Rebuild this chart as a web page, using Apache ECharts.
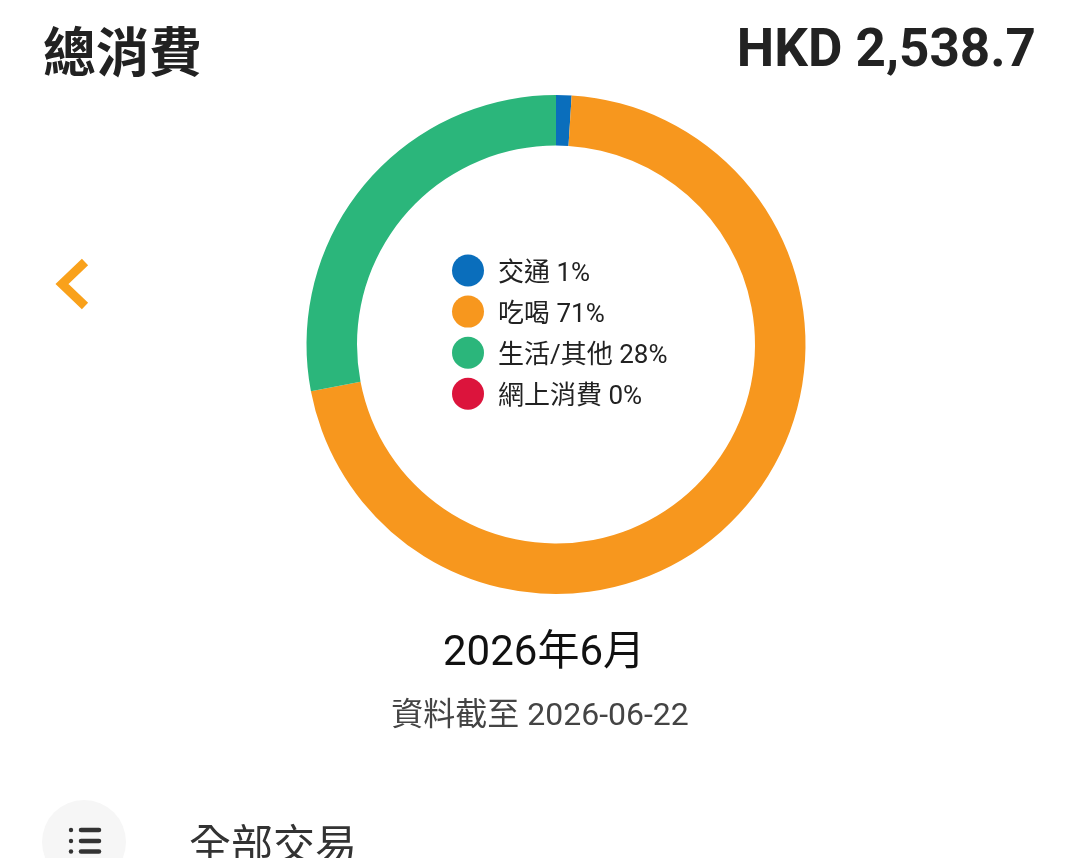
<!DOCTYPE html>
<html>
<head>
<meta charset="utf-8">
<style>html,body{margin:0;padding:0;background:#fff}#chart{width:1080px;height:858px}</style>
<script src="https://cdn.jsdelivr.net/npm/echarts@6/dist/echarts.min.js"></script>
</head>
<body>
<div id="chart"></div>
<script>
// Monthly spending split by category
const categories = ['交通', '吃喝', '生活/其他', '網上消費'];
const shares = [1, 71, 28, 0];
const palette = ['#0A6EBC', '#F7971E', '#2BB67B', '#DC143C'];
const heading = '總消費';
const totalText = 'HKD 2,538.7';
const monthText = '2026年6月';
const asOfText = '資料截至 2026-06-22';
const listText = '全部交易';

const fontStack = 'Roboto, "Noto Sans CJK TC", sans-serif';
const chart = echarts.init(document.getElementById('chart'), null, { renderer: 'canvas' });

chart.setOption({
  animation: false,
  backgroundColor: '#ffffff',
  color: palette,
  textStyle: { fontFamily: fontStack },
  title: [
    { text: heading, left: 43, top: 32, padding: 0,
      textStyle: { fontSize: 53, fontWeight: 'bold', color: '#222222', fontFamily: fontStack } },
    { text: totalText, right: 44, top: 26, padding: 0,
      textStyle: { fontSize: 53, fontWeight: 'bold', color: '#222222', fontFamily: fontStack } },
    { text: monthText, left: 544, top: 633, textAlign: 'center', padding: 0,
      textStyle: { fontSize: 42, fontWeight: 'normal', color: '#111111', fontFamily: fontStack } },
    { text: asOfText, left: 540, top: 701, textAlign: 'center', padding: 0,
      textStyle: { fontSize: 32, fontWeight: 'normal', color: '#444444', fontFamily: fontStack } },
    { text: listText, left: 189, top: 828, padding: 0,
      textStyle: { fontSize: 42, fontWeight: 'normal', color: '#333333', fontFamily: fontStack } }
  ],
  legend: {
    orient: 'vertical',
    left: 452,
    top: 254,
    padding: 0,
    icon: 'circle',
    itemWidth: 32,
    itemHeight: 32,
    itemGap: 8.1,
    selectedMode: false,
    data: categories,
    formatter: name => '{entry|' + name + ' ' + shares[categories.indexOf(name)] + '%}',
    textStyle: {
      rich: {
        entry: { fontSize: 26, lineHeight: 25, color: '#222222', fontFamily: fontStack, padding: [7, 0, 0, 9] }
      }
    }
  },
  series: [{
    type: 'pie',
    center: [556, 344.5],
    radius: [199, 249.5],
    startAngle: 90,
    clockwise: true,
    silent: true,
    label: { show: false },
    labelLine: { show: false },
    data: categories.map((name, i) => ({ name, value: shares[i] }))
  }],
  graphic: [
    // back chevron
    { type: 'polyline', shape: { points: [[85, 262], [62, 284], [85, 306]] },
      style: { stroke: '#F9A11B', lineWidth: 9, fill: null, lineJoin: 'miter' } },
    // list button at the bottom edge
    { type: 'circle', shape: { cx: 84, cy: 842, r: 42 }, style: { fill: '#F6F6F6' } },
    { type: 'group', children: [
      { type: 'circle', shape: { cx: 71, cy: 830, r: 2.2 }, style: { fill: '#333333' } },
      { type: 'circle', shape: { cx: 71, cy: 841, r: 2.2 }, style: { fill: '#333333' } },
      { type: 'circle', shape: { cx: 71, cy: 851.5, r: 2.2 }, style: { fill: '#333333' } },
      { type: 'line', shape: { x1: 81, y1: 830, x2: 99, y2: 830 }, style: { stroke: '#333333', lineWidth: 4.5, lineCap: 'round' } },
      { type: 'line', shape: { x1: 81, y1: 841, x2: 99, y2: 841 }, style: { stroke: '#333333', lineWidth: 4.5, lineCap: 'round' } },
      { type: 'line', shape: { x1: 81, y1: 851.5, x2: 99, y2: 851.5 }, style: { stroke: '#333333', lineWidth: 4.5, lineCap: 'round' } }
    ] }
  ]
});
</script>
</body>
</html>
